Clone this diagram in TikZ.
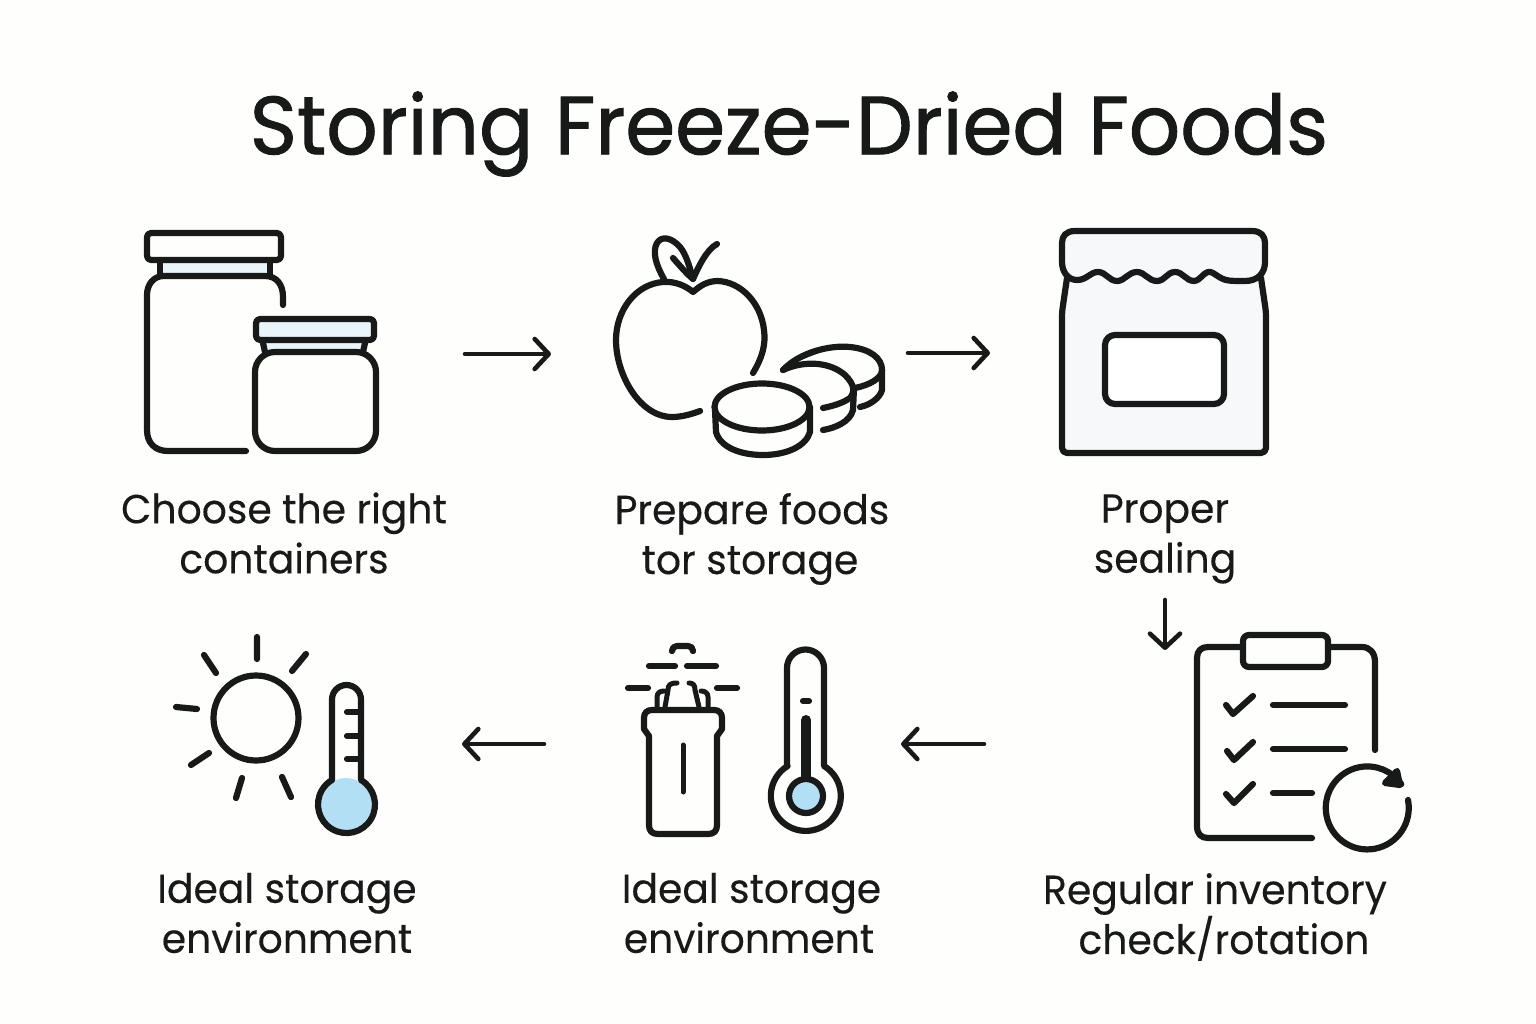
\documentclass[tikz,border=0pt]{standalone}
\usepackage{fontspec}
\usetikzlibrary{arrows.meta}
\setmainfont{Poppins}[FakeStretch=0.97]
\newfontfamily\titlefont{Poppins}[FakeStretch=0.975,FakeBold=1.1]
\newfontfamily\capfont{Poppins}[FakeStretch=0.97,FakeBold=0.25]
\definecolor{ink}{HTML}{181919}
\definecolor{paper}{HTML}{FEFEFD}
\definecolor{pale}{HTML}{EAF5FA}
\definecolor{bagfill}{HTML}{F6F8FA}
\definecolor{aqua}{HTML}{B3DFF5}
\tikzset{
  ico/.style={draw=ink,line width=6.2pt,line cap=round,line join=round},
  thin ico/.style={draw=ink,line width=5pt,line cap=round,line join=round},
  flow/.style={draw=ink,line width=4.6pt,line cap=round,-{Straight Barb[length=14pt,width=30pt,round,line width=4.6pt]}},
  caption/.style={font=\capfont\fontsize{40.5}{50}\selectfont,text=ink,align=center,inner sep=0pt},
}
\begin{document}
\begin{tikzpicture}[x=1pt,y=-1pt]
\path[fill=paper] (0,0) rectangle (1536,1024);
\useasboundingbox (0,0) rectangle (1536,1024);
\node[font=\titlefont\fontsize{82.5}{90}\selectfont,text=ink,inner sep=0pt] (title) at (789,134) {Storing Freeze-Dried Foods};
% containers
\fill[pale] (162,262) rectangle (268,276);
\draw[ico] (160,263) -- (160,276) (270,263) -- (270,276);
\draw[ico,rounded corners=4pt] (147,233) rectangle (281,260);
\draw[ico] (283,305) -- (283,297) .. controls (283,285) and (277,276) .. (265,276) -- (164,276) .. controls (153,276) and (147,285) .. (147,295) -- (147,430) .. controls (147,443) and (155,451) .. (168,451) -- (246,451);
\fill[pale] (265,342) rectangle (364,352);
\draw[ico] (263,343) -- (265,352) (365,343) -- (363,352);
\draw[ico,fill=pale,rounded corners=4pt] (256,319) rectangle (374,340);
\draw[ico,rounded corners=20pt] (255,352) rectangle (376,451);
% apple and slices
\draw[ico] (753,373) .. controls (762,358) and (766,345) .. (764,330) .. controls (761,303) and (741,282) .. (718,281) .. controls (707,281) and (700,286) .. (693,292) .. controls (686,286) and (675,281) .. (663,282) .. controls (636,284) and (616,310) .. (616,340) .. controls (616,375) and (640,417) .. (672,417) .. controls (682,417) and (692,414) .. (700,411);
\draw[ico] (664,279) .. controls (656,265) and (652,252) .. (657,243) .. controls (662,235) and (672,238) .. (680,247) .. controls (686,254) and (690,268) .. (693,279);
\draw[ico] (673,258) .. controls (680,266) and (687,274) .. (693,279) .. controls (698,268) and (706,250) .. (717,244);
\draw[ico] (762,407) ellipse [x radius=47.5,y radius=23.5];
\draw[ico] (715,410) -- (716,432) .. controls (720,447) and (740,455) .. (763,455) .. controls (787,455) and (806,446) .. (810,432) -- (810,407);
\draw[ico] (783,370) .. controls (800,352) and (830,345) .. (850,347) .. controls (870,349) and (882,358) .. (882,370) .. controls (882,378) and (870,385) .. (855,388);
\draw[ico] (882,370) -- (882,390) .. controls (880,398) and (870,405) .. (860,407);
\draw[ico] (783,370) .. controls (805,360) and (830,362) .. (845,375) .. controls (855,385) and (855,392) .. (850,398) .. controls (843,403) and (833,406) .. (823,408);
\draw[ico] (854,388) -- (853,410) .. controls (850,422) and (835,428) .. (823,430);
\fill[ink] (781,371) .. controls (795,356) and (808,353) .. (822,352) .. controls (805,358) and (795,362) .. (781,371) -- cycle;
% sealed bag
\draw[ico,fill=bagfill,rounded corners=5pt] (1067,278) -- (1062,312) -- (1062,453) -- (1266,453) -- (1266,312) -- (1261,278);
\draw[ico,fill=bagfill] (1075,231) -- (1252,231) .. controls (1261,231) and (1265,236) .. (1265,243) -- (1265,262) .. controls (1265,273) and (1258,281) .. (1245,281) .. controls (1225,281) and (1225,281) .. (1213,273) .. controls (1205,268) and (1201,281) .. (1194,281) .. controls (1186,281) and (1183,272) .. (1175,272) .. controls (1167,272) and (1165,281) .. (1157,281) .. controls (1148,281) and (1145,272) .. (1137,272) .. controls (1128,272) and (1125,281) .. (1117,281) .. controls (1109,281) and (1106,272) .. (1098,272) .. controls (1090,272) and (1087,280) .. (1077,280) .. controls (1068,280) and (1062,272) .. (1062,262) -- (1062,243) .. controls (1062,236) and (1066,231) .. (1075,231) -- cycle;
\draw[ico,fill=white,rounded corners=10pt] (1105,335) rectangle (1224,404);
% clipboard
\draw[ico] (1241,647) -- (1208,647) .. controls (1201,647) and (1197,651) .. (1197,658) -- (1197,826) .. controls (1197,834) and (1201,838) .. (1208,838) -- (1312,838);
\draw[ico] (1330,647) -- (1362,647) .. controls (1370,647) and (1375,653) .. (1375,662) -- (1375,750);
\draw[ico,rounded corners=6pt] (1243,635) rectangle (1328,667);
\draw[ico] (1226,705) -- (1233,714) -- (1253,696) (1227,751) -- (1234,760) -- (1253,742) (1226,794) -- (1234,803) -- (1253,784);
\draw[ico] (1273,705) -- (1345,705) (1273,749) -- (1345,749) (1273,793) -- (1312,793);
\draw[ico] (1408,800) arc[start angle=-11,delta angle=336,radius=41.5];
\draw[ico,fill=ink] (1397,771) -- (1400,785) -- (1385,783) -- cycle;
% bottle and thermometer
\draw[ico] (649,736) -- (649,825) .. controls (649,831) and (652,834) .. (658,834) -- (708,834) .. controls (714,834) and (717,831) .. (717,825) -- (717,736) -- (722,729) -- (722,718) .. controls (722,713) and (719,710) .. (714,710) -- (652,710) .. controls (647,710) and (644,713) .. (644,718) -- (644,729) -- cycle;
\draw[thin ico] (683,745) -- (683,792);
\draw[thin ico] (657,707) -- (657,697) .. controls (657,693) and (660,691) .. (664,691) (665,707) -- (668,690) .. controls (668,685) and (670,683) .. (677,683);
\draw[thin ico] (708,707) -- (708,697) .. controls (708,693) and (705,691) .. (701,691) (699,707) -- (695,690) .. controls (695,685) and (693,683) .. (689,683);
\draw[ico] (672,651) .. controls (672,648) and (674,646) .. (677,646) -- (688,646) .. controls (691,646) and (693,648) .. (693,651);
\draw[ico] (649,666) -- (675,666) (687,666) -- (716,666) (628,688) -- (648,688) (717,688) -- (737,688);
\draw[ico] (787,766) -- (787,668) arc[start angle=180,delta angle=180,radius=18.5] -- (824,766) arc[start angle=-58.7,delta angle=297.4,radius=35];
\draw[ico] (803,701) -- (809,701);
\draw[draw=ink,line width=10pt,line cap=round] (806,720) -- (806,785);
\draw[ico,fill=aqua] (806,796) circle [radius=17];
% sun and thermometer
\draw[ico] (256,718) circle [radius=42.5];
\draw[ico] (257,637) -- (257,659) (204,655) -- (216,673) (306,654) -- (292,671) (176,707) -- (197,709) (191,765) -- (209,753) (242,778) -- (236,798) (282,777) -- (291,797);
\fill[aqua] (346,804) circle [radius=26];
\draw[ico] (332,780) -- (332,699.5) arc[start angle=180,delta angle=180,radius=14.5] -- (361,780) arc[start angle=-59.4,delta angle=298.8,radius=28.5];
\draw[ico] (347,712) -- (361,712) (347,736) -- (361,736) (347,759) -- (361,759);
% flow connectors
\coordinate (a1) at (465,354); \coordinate (a2) at (551,354);
\coordinate (b1) at (908,353); \coordinate (b2) at (990,353);
\coordinate (c1) at (1165,600); \coordinate (c2) at (1165,650);
\coordinate (d1) at (984,744); \coordinate (d2) at (901,744);
\coordinate (e1) at (544,744); \coordinate (e2) at (462,744);
\draw[flow] (a1) -- (a2);
\draw[flow] (b1) -- (b2);
\draw[flow] (c1) -- (c2);
\draw[flow] (d1) -- (d2);
\draw[flow] (e1) -- (e2);
% captions
\node[caption] (s1) at (284,533) {Choose the right\\containers};
\node[caption] (s2) at (752,539) {Prepare foods\\\hspace*{-4pt}tor storage};
\node[caption] (s3) at (1165,539) {Proper\\sealing};
\node[caption] (s4) at (1215,917) {Regular inventory\\\hspace*{18pt}check/rotation};
\node[caption] (s5) at (749,913) {\hspace*{5pt}Ideal storage\\environment};
\node[caption] (s6) at (287,913) {Ideal storage\\environment};
\end{tikzpicture}
\end{document}
